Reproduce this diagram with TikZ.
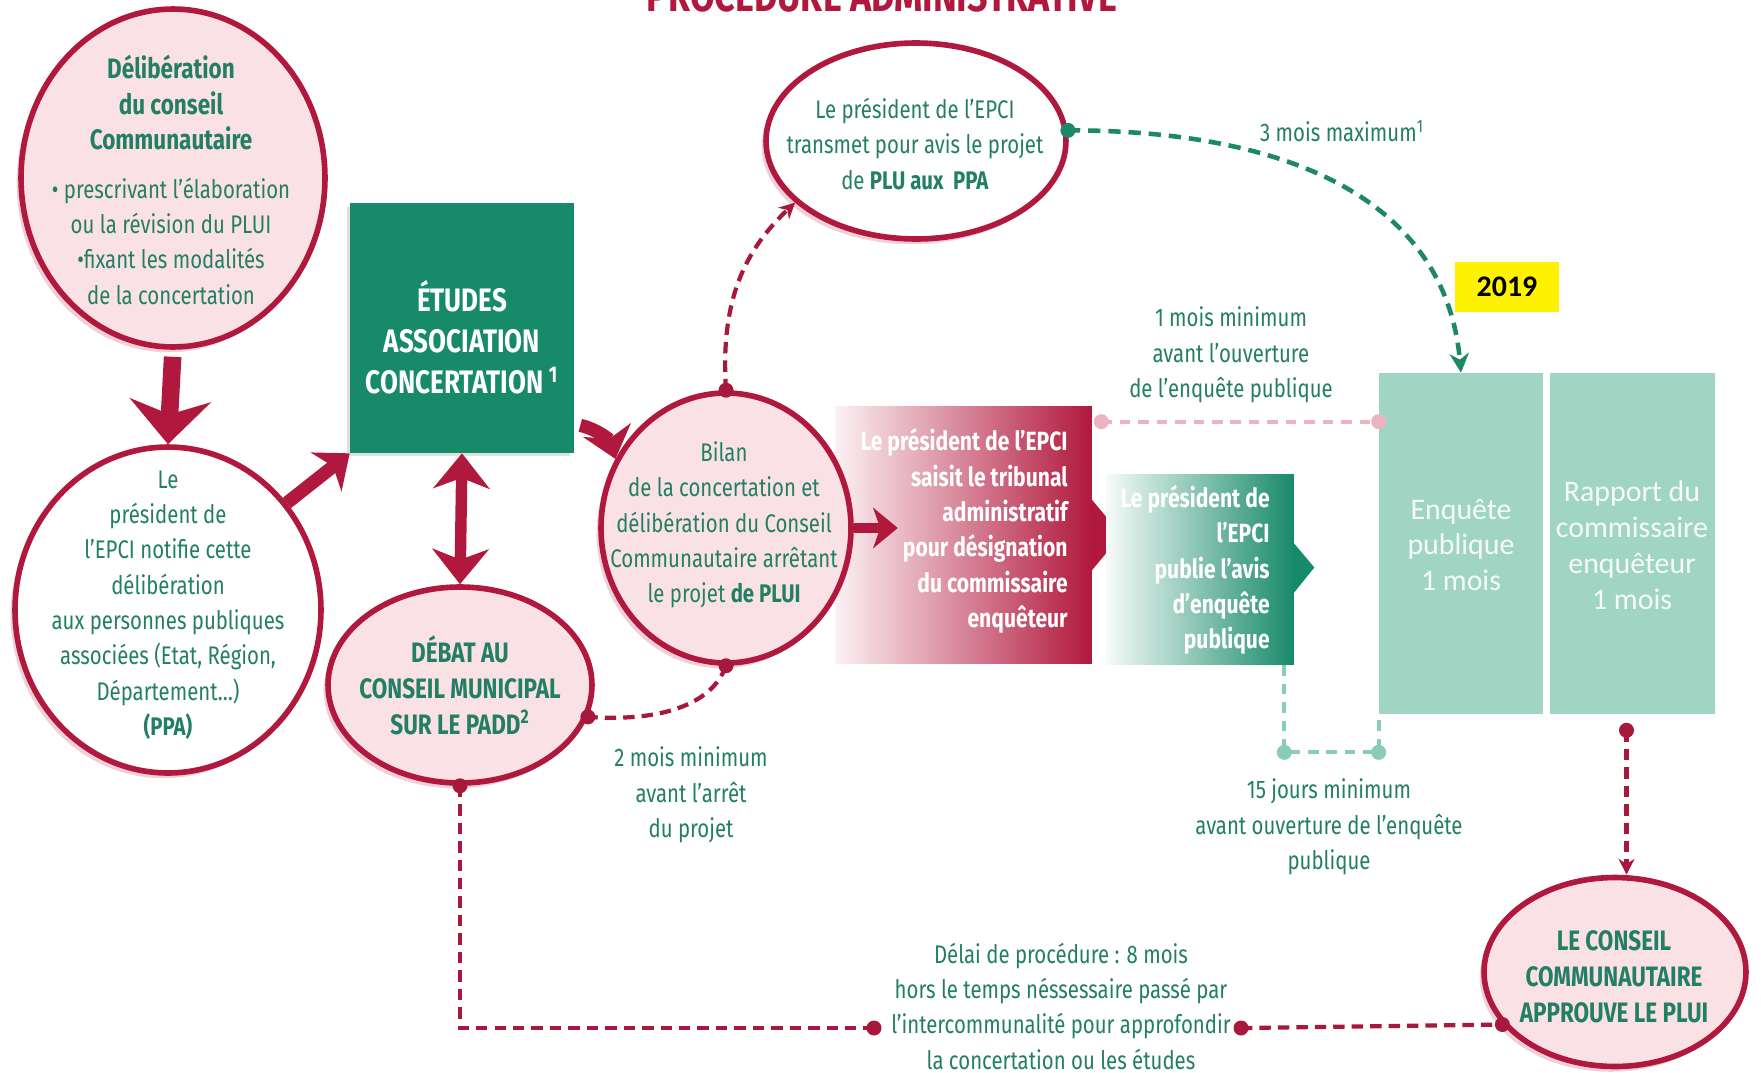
\documentclass[tikz,border=0pt]{standalone}
\usepackage{fontspec}
\setmainfont{Fira Sans}[FakeStretch=0.8]
\newfontfamily\calfont{Carlito}
\usetikzlibrary{shapes.geometric,arrows.meta,shadows,calc}
\definecolor{crimson}{HTML}{B1183D}
\definecolor{pinkfill}{HTML}{FAE1E6}
\definecolor{tgreen}{HTML}{237F63}
\definecolor{bgreen}{HTML}{178A69}
\definecolor{lteal}{HTML}{A1D5C3}
\definecolor{tealdash}{HTML}{8ACDB5}
\definecolor{pinkdash}{HTML}{EDB3C0}
\definecolor{dred}{HTML}{A8183C}
\definecolor{dgreen}{HTML}{1D8865}
\definecolor{pinkL}{HTML}{FCF1F3}
\definecolor{greenL}{HTML}{F6FBF9}
\begin{document}
\begin{tikzpicture}[x=0.02cm,y=-0.02cm,
  bubble/.style={ellipse, draw=crimson, line width=3.2pt, fill=pinkfill, inner sep=0pt,
    drop shadow={shadow xshift=-2.5pt, shadow yshift=-3pt, fill=crimson, opacity=0.2}},
  lbl/.style={text=tgreen, align=center, inner sep=0pt, font=\fontsize{14.5}{20.1}\selectfont},
  capT/.style={text=tgreen, align=center, inner sep=0pt, font=\bfseries\fontsize{16}{20.6}\selectfont},
  etT/.style={text=white, align=center, inner sep=0pt, font=\bfseries\fontsize{18.5}{23.4}\selectfont},
  whiteR/.style={text=white, align=right, inner sep=0pt, font=\bfseries\fontsize{15}{20.1}\selectfont},
  enqT/.style={text=white!90!lteal, align=center, inner sep=0pt, font=\calfont\fontsize{17}{20.4}\selectfont},
  dotR/.style={circle, fill=dred, inner sep=0pt, minimum size=0.3cm},
  dotG/.style={circle, fill=dgreen, inner sep=0pt, minimum size=0.3cm},
  dotP/.style={circle, fill=pinkdash, inner sep=0pt, minimum size=0.3cm},
  dotT/.style={circle, fill=tealdash, inner sep=0pt, minimum size=0.3cm},
  reddash/.style={draw=dred, line width=2.4pt, dash pattern=on 6.5pt off 4pt},
  greendash/.style={draw=dgreen, line width=2.6pt, dash pattern=on 7pt off 4.5pt},
  pinkdashed/.style={draw=pinkdash, line width=2.4pt, dash pattern=on 6pt off 4.5pt},
  tealdashed/.style={draw=tealdash, line width=2.4pt, dash pattern=on 6pt off 4.5pt},
  fatA/.style={draw=crimson, line width=10pt, shorten <=4pt, -{Stealth[length=25pt,width=46pt,inset=8pt]}},
  fatB/.style={draw=crimson, line width=7.5pt, -{Stealth[length=17pt,width=28pt,inset=5pt]}},
  fatD/.style={draw=crimson, line width=6.5pt, {Stealth[length=20pt,width=32pt,inset=6pt]}-{Stealth[length=20pt,width=32pt,inset=6pt]}},
  fatC/.style={draw=crimson, line width=5.5pt, -{Stealth[length=14pt,width=23pt,inset=4pt]}}
]
\useasboundingbox (0,0) rectangle (1761,1072);
\clip (0,0) rectangle (1761,1072);
\fill[white] (0,0) rectangle (1761,1072);

% title (cut at the top, as in the reference)
\node[text=crimson, anchor=base, inner sep=0pt, font=\bfseries\fontsize{25.5}{28}\selectfont] (title) at (882,11) {PROCEDURE ADMINISTRATIVE};

% green box
\node[rectangle, fill=bgreen, inner sep=0pt, minimum width=4.48cm, minimum height=5cm,
  drop shadow={shadow xshift=-2pt, shadow yshift=-2pt, fill=black, opacity=0.12}] (Et) at (462,328) {};
\node[etT] (EtT) at (462,337) {ÉTUDES\\ASSOCIATION\\CONCERTATION\,\textsuperscript{1}};

% red gradient box
\node[rectangle, inner sep=0pt, minimum width=5.14cm, minimum height=5.16cm, left color=pinkL, right color=crimson] (Red) at (963.5,535) {};
\fill[crimson] ($(Red.east)+(-1,-36)$) -- ($(Red.east)+(29,0)$) -- ($(Red.east)+(-1,36)$) -- cycle;

% green gradient box
\node[rectangle, inner sep=0pt, minimum width=3.76cm, minimum height=3.82cm, left color=greenL, right color=bgreen] (G) at (1200,569.5) {};
\fill[bgreen] ($(G.east)+(-1,-27)$) -- ($(G.east)+(20,-2)$) -- ($(G.east)+(-1,24)$) -- cycle;

% enquete / rapport boxes
\node[rectangle, fill=lteal, inner sep=0pt, minimum width=3.28cm, minimum height=6.82cm] (Enq) at (1461,543.5) {};
\node[rectangle, fill=lteal, inner sep=0pt, minimum width=3.3cm, minimum height=6.82cm] (Rap) at (1632.5,543.5) {};
\node[enqT] (EnqT) at (1461,545) {Enquête\\publique\\1 mois};
\node[enqT] (RapT) at (1632,545) {Rapport du\\commissaire\\enquêteur\\1 mois};

% 2019
\node[rectangle, fill=yellow, inner sep=0pt, minimum width=2.08cm, minimum height=1cm,
  font=\calfont\bfseries\fontsize{17}{20}\selectfont, text=black] (Y) at (1507,287) {2019};

% bubbles
\node[bubble, minimum width=6.08cm, minimum height=6.76cm] (A) at (173,178) {};
\node[bubble, fill=white, minimum width=6.12cm, minimum height=6.52cm] (B) at (168,610) {};
\node[bubble, minimum width=5.28cm, minimum height=3.92cm] (C) at (460,685) {};
\node[bubble, minimum width=5.0cm, minimum height=5.4cm] (D) at (726,528) {};
\node[bubble, fill=white, minimum width=6.0cm, minimum height=3.92cm] (E) at (916,141) {};
\node[bubble, minimum width=5.24cm, minimum height=3.78cm] (F) at (1615,972) {};

% bubble texts
\node[lbl] (At) at (171,180) {\textbf{\fontsize{16}{20.1}\selectfont Délibération}\\\textbf{\fontsize{16}{20.1}\selectfont du conseil}\\\textbf{\fontsize{16}{20.1}\selectfont Communautaire}\\[7.7pt]• prescrivant l’élaboration\\ou la révision du PLUI\\•fixant les modalités\\de la concertation};
\node[lbl] (Bt) at (168,605) {Le\\président de\\l’EPCI notifie cette\\délibération\\aux personnes publiques\\associées (Etat, Région,\\Département…)\\\textbf{(PPA)}};
\node[capT] (Ct) at (460,685) {DÉBAT AU\\CONSEIL MUNICIPAL\\SUR LE PADD\textsuperscript{2}};
\node[lbl] (Dt) at (724,525) {Bilan\\de la concertation et\\délibération du Conseil\\Communautaire arrêtant\\le projet \textbf{de PLUI}};
\node[lbl] (Etx) at (915,144) {Le président de l’EPCI\\transmet pour avis le projet\\de \textbf{PLU aux\ \ PPA}};
\node[capT] (Ft) at (1614,977) {LE CONSEIL\\COMMUNAUTAIRE\\APPROUVE LE PLUI};

% gradient box texts
\node[whiteR, anchor=east] (RedT) at (1068,531) {Le président de l’EPCI\\saisit le tribunal\\administratif\\pour désignation\\du commissaire\\enquêteur};
\node[whiteR, anchor=east] (GT) at (1270,570) {Le président de\\l’EPCI\\publie l’avis\\d’enquête\\publique};

% fat arrows
\draw[fatA] (A.south) -- (B.north);
\draw[fatB] (B.42) -- (Et.south west);
\draw[fatD] (Et.south) -- (C.north);
\draw[fatB] ($(Et.south east)+(6,-28)$) to[bend left=30] (D.148);
\draw[fatC] (D.east) -- ++(44,0);

% labels
\node[lbl] (t3) at (1342,131) {3 mois maximum\textsuperscript{1}};
\node[lbl] (t1) at (1231,355) {1 mois minimum\\avant l’ouverture\\de l’enquête publique};
\node[lbl] (t2) at (691,795) {2 mois minimum\\avant l’arrêt\\du projet};
\node[lbl] (t15) at (1329,827) {15 jours minimum\\avant ouverture de l’enquête\\publique};
\node[lbl] (tdel) at (1061,1006) {Délai de procédure : 8 mois\\hors le temps néssessaire passé par\\l’intercommunalité pour approfondir\\la concertation ou les études};

% coordinates
\coordinate (cD1) at (D.north);
\coordinate (cE1) at (E.4);
\coordinate (cP1) at ($(Red.north east)+(9,16)$);
\coordinate (cP2) at (cP1 -| Enq.west);
\coordinate (cG1) at ($(G.south east)+(-10,87)$);
\coordinate (cG2) at (cG1 -| Enq.west);
\coordinate (cR1) at ($(Rap.south)+(-6,16)$);
\coordinate (cD2) at (D.south);
\coordinate (cC1) at (C.-14);
\coordinate (cC2) at (C.south);
\coordinate (cL1) at (874,1028);
\coordinate (cL2) at (1241,1028);
\coordinate (cF1) at (F.205);

% dashed connectors
\draw[reddash, -{Stealth[length=9pt,width=9pt]}] (cD1) .. controls (720,300) and (745,250) .. (E.207);
\draw[greendash, -{Stealth[length=11pt,width=11pt]}] (cE1) .. controls (1280,130) and (1445,195) .. (Enq.north);
\draw[pinkdashed] (cP1) -- (cP2);
\draw[tealdashed] (cG1 |- G.south) -- (cG1) -- (cG2) -- (cG2 |- Enq.south);
\draw[reddash, -{Stealth[length=9pt,width=9pt]}] (cR1) -- (cR1 |- F.north);
\draw[reddash] (cD2) .. controls (712,705) and (660,722) .. (cC1);
\draw[reddash] (cC2) |- (cL1);
\draw[reddash] (cL2) -- (cF1);

% dots
\node[dotR] (nD1) at (cD1) {};
\node[dotG] (nE1) at (cE1) {};
\node[dotP] (nP1) at (cP1) {};
\node[dotP] (nP2) at (cP2) {};
\node[dotT] (nG1) at (cG1) {};
\node[dotT] (nG2) at (cG2) {};
\node[dotR] (nR1) at (cR1) {};
\node[dotR] (nD2) at (cD2) {};
\node[dotR] (nC1) at (cC1) {};
\node[dotR] (nC2) at (cC2) {};
\node[dotR] (nL1) at (cL1) {};
\node[dotR] (nL2) at (cL2) {};
\node[dotR] (nF1) at (cF1) {};
\end{tikzpicture}
\end{document}
